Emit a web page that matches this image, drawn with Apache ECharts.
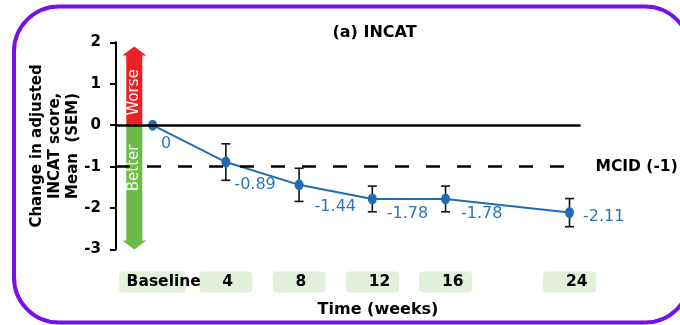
<!DOCTYPE html>
<html>
<head>
<meta charset="utf-8">
<script src="https://cdn.jsdelivr.net/npm/echarts@6/dist/echarts.min.js"></script>
<style>
  html, body { margin: 0; padding: 0; background: #ffffff; }
  #chart { width: 680px; height: 325px; }
</style>
</head>
<body>
<div id="chart"></div>
<script>
// Study visits (weeks) and their axis labels
const weeks = [0, 4, 8, 12, 16, 24];
const weekLabels = ['Baseline', '4', '8', '12', '16', '24'];
// Mean change in adjusted INCAT score and its standard error
const meanChange = [0, -0.89, -1.44, -1.78, -1.78, -2.11];
const sem = [0, 0.44, 0.40, 0.31, 0.31, 0.34];
// Minimal clinically important difference
const mcid = -1;
const mcidLabel = 'MCID (-1)';
// Direction arrows beside the y axis
const arrowLabels = ['Worse', 'Better'];
const arrowTips = [1.9, -3];

// Layout: where each value label sits relative to its point
const valueLabelOffsets = [[4, 19], [4, 23], [11, 22], [10, 15], [11, 15], [9, 4]];
const arrowTextPos = [0.47, 0.37];

const FONT = '"DejaVu Sans", Verdana, sans-serif';
const BLUE = '#1f6cb4';

const lineData = weeks.map((w, i) => ({
  value: [w, meanChange[i]],
  label: { offset: valueLabelOffsets[i] }
}));

const errData = weeks
  .map((w, i) => [w, meanChange[i] - sem[i], meanChange[i] + sem[i]])
  .filter((d, i) => sem[i] > 0);

const arrowData = arrowTips.map((t, i) => [-1, t, i]);

function renderErrorBar(params, api) {
  const x = api.value(0);
  const top = api.coord([x, api.value(2)]);
  const bot = api.coord([x, api.value(1)]);
  const cap = 4.5;
  const style = { stroke: '#111111', lineWidth: 1.6 };
  return {
    type: 'group',
    children: [
      { type: 'line', shape: { x1: top[0], y1: top[1], x2: bot[0], y2: bot[1] }, style },
      { type: 'line', shape: { x1: top[0] - cap, y1: top[1], x2: top[0] + cap, y2: top[1] }, style },
      { type: 'line', shape: { x1: bot[0] - cap, y1: bot[1], x2: bot[0] + cap, y2: bot[1] }, style }
    ]
  };
}

function renderArrow(params, api) {
  const x = api.value(0);
  const idx = api.value(2);
  const base = api.coord([x, 0]);
  const end = api.coord([x, api.value(1)]);
  const dir = end[1] < base[1] ? -1 : 1;
  const hw = 8, headW = 12, headL = 9;
  const neck = end[1] - dir * headL;
  const cx = base[0];
  const color = dir < 0 ? '#ed2024' : '#6cbb47';
  const ty = base[1] + (neck - base[1]) * arrowTextPos[idx];
  return {
    type: 'group',
    children: [
      {
        type: 'polygon',
        shape: { points: [[cx - hw, base[1]], [cx - hw, neck], [cx - headW, neck], [cx, end[1]], [cx + headW, neck], [cx + hw, neck], [cx + hw, base[1]]] },
        style: { fill: color }
      },
      {
        type: 'text',
        x: cx, y: ty, rotation: Math.PI / 2,
        style: {
          text: arrowLabels[idx], fill: '#ffffff', fontSize: 15, fontFamily: FONT,
          align: 'center', verticalAlign: 'middle'
        }
      }
    ]
  };
}

// Shared label box styles for the time axis
const boxBase = {
  height: 21, lineHeight: 21, align: 'left',
  backgroundColor: '#e2efda', borderRadius: 4,
  fontFamily: FONT, fontSize: 15.5, fontWeight: 'bold', color: '#000000'
};
const labelRich = {
  b: Object.assign({ width: 59.5, padding: [0, 0, 0, 7.5] }, boxBase),
  n: Object.assign({ width: 30, padding: [0, 0, 0, 23] }, boxBase)
};

function timeAxis(values, show) {
  return {
    type: 'value',
    gridIndex: 0,
    position: 'bottom',
    min: -2, max: 24.6,
    breaks: [{ start: 18, end: 22, gap: 2.77 }],
    breakArea: { show: false },
    axisLine: { show: false, onZero: false },
    axisTick: { show: false },
    splitLine: { show: false },
    axisLabel: {
      show: show,
      customValues: values,
      hideOverlap: false,
      margin: 22,
      formatter: (v) => {
        const i = weeks.indexOf(v);
        const t = i >= 0 ? weekLabels[i] : '';
        return i === 0 ? '{b|' + t + '}' : '{n|' + t + '}';
      },
      rich: labelRich
    }
  };
}

const chart = echarts.init(document.getElementById('chart'), null, { renderer: 'canvas' });

chart.setOption({
  animation: false,
  backgroundColor: '#ffffff',
  title: [
    {
      text: '(a) INCAT', left: 374.5, top: 25, padding: 0, textAlign: 'center',
      textStyle: { fontFamily: FONT, fontSize: 16, fontWeight: 'bold', color: '#000000' }
    },
    {
      text: 'Time (weeks)', left: 378, top: 302, padding: 0, textAlign: 'center',
      textStyle: { fontFamily: FONT, fontSize: 16, fontWeight: 'bold', color: '#000000' }
    }
  ],
  graphic: [{
    type: 'rect', silent: true, z: -10,
    shape: { x: 14, y: 6.5, width: 676, height: 316, r: 45 },
    style: { fill: 'none', stroke: '#7a10e8', lineWidth: 4 }
  }],
  grid: { left: 116, top: 42.3, right: 99.5, bottom: 75.5, containLabel: false, outerBoundsMode: 'none' },
  xAxis: [
    timeAxis(weeks.slice(1), true),
    timeAxis(weeks.slice(0, 1), true)
  ],
  yAxis: {
    type: 'value',
    min: -3, max: 2, interval: 1,
    name: 'Change in adjusted\nINCAT score,\nMean  (SEM)',
    nameLocation: 'middle',
    nameRotate: 90,
    nameGap: 34,
    nameMoveOverlap: false,
    nameTextStyle: {
      fontFamily: FONT, fontSize: 15, fontWeight: 'bold', color: '#000000',
      lineHeight: 18, align: 'center'
    },
    axisLine: { show: true, onZero: false, lineStyle: { color: '#000000', width: 2 } },
    axisTick: { show: true, inside: false, length: 6, lineStyle: { color: '#000000', width: 2 } },
    splitLine: { show: false },
    axisLabel: {
      margin: 15,
      fontFamily: FONT, fontSize: 15, fontWeight: 'bold', color: '#000000'
    }
  },
  series: [
    {
      // reference lines: zero and MCID
      type: 'line', data: [], z: 1, silent: true,
      markLine: {
        silent: true, symbol: 'none', animation: false,
        data: [
          { yAxis: 0, lineStyle: { color: '#000000', width: 2.5, type: 'solid' }, label: { show: false } },
          {
            yAxis: mcid,
            lineStyle: { color: '#000000', width: 2.5, type: [14, 17] },
            label: {
              show: true, position: 'end', distance: 15, formatter: mcidLabel,
              fontFamily: FONT, fontSize: 15.5, fontWeight: 'bold', color: '#000000'
            }
          }
        ]
      }
    },
    {
      type: 'custom', z: 2, silent: true,
      renderItem: renderErrorBar,
      data: errData
    },
    {
      type: 'line', z: 3, silent: true,
      data: lineData,
      lineStyle: { color: BLUE, width: 2 },
      itemStyle: { color: BLUE },
      symbol: 'circle', symbolSize: [9, 11],
      showAllSymbol: true,
      label: {
        show: true, position: 'right', distance: 0,
        formatter: (p) => String(meanChange[p.dataIndex]),
        fontFamily: FONT, fontSize: 16, color: '#2e75b6'
      }
    },
    {
      type: 'custom', z: 4, silent: true,
      renderItem: renderArrow,
      data: arrowData
    }
  ]
});
</script>
</body>
</html>
